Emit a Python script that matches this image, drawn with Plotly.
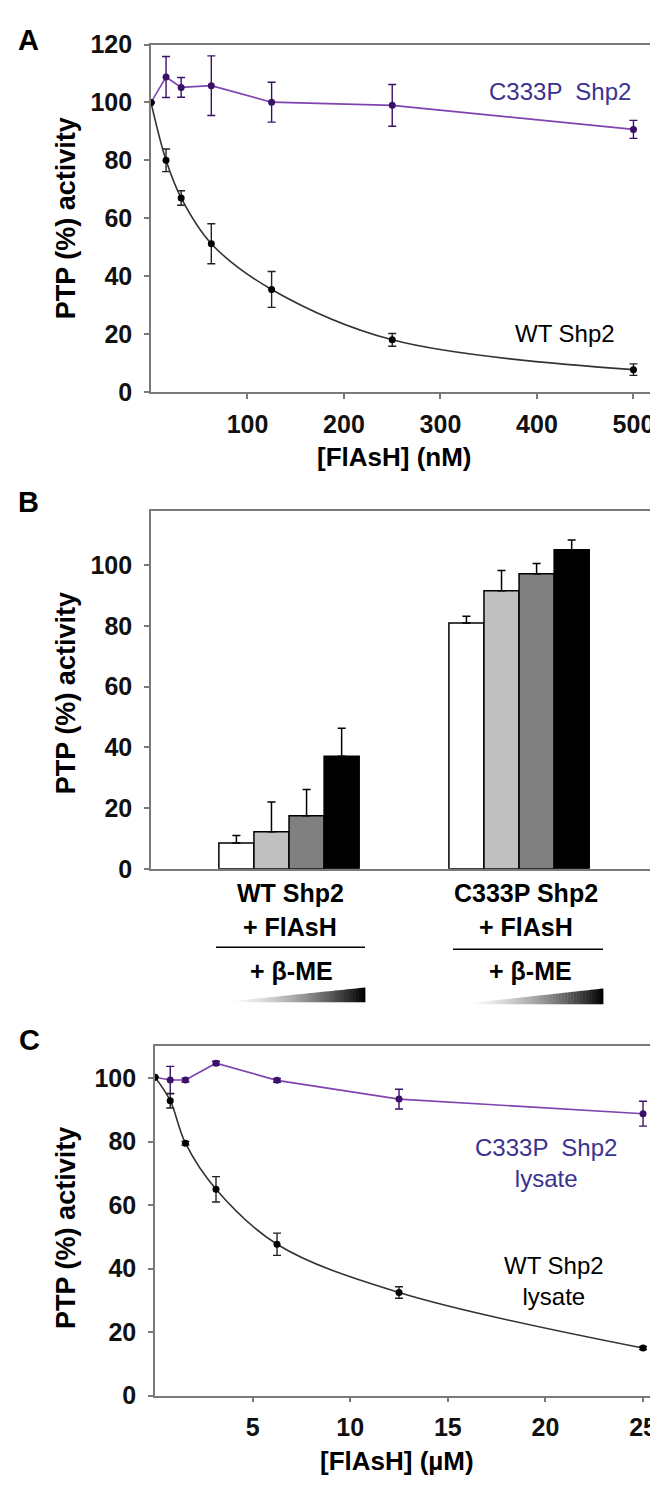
import plotly.graph_objects as go

# ---------------- data ----------------
# Panel A: FlAsH titration of purified Shp2 (nM)
a_conc = [0, 15.6, 31.25, 62.5, 125, 250, 500]
a_wt = [100, 80, 67, 51.2, 35.4, 18, 7.7]
a_wt_err = [0, 3.9, 2.5, 6.9, 6.2, 2.2, 2.0]
a_mut = [100, 108.8, 105.2, 105.8, 100.1, 99, 90.7]
a_mut_err = [0, 7.1, 3.4, 10.3, 6.9, 7.2, 3.1]

# Panel B: beta-ME rescue (4 increasing beta-ME levels)
b_groups = [0, 1]  # 0 = WT Shp2 + FlAsH, 1 = C333P Shp2 + FlAsH
b_level_names = ["β-ME level 1", "β-ME level 2", "β-ME level 3", "β-ME level 4"]
b_values = [[8.5, 81.0], [12.2, 91.6], [17.5, 97.2], [37.1, 105.1]]
b_errors = [[2.5, 2.2], [9.8, 6.7], [8.6, 3.4], [9.2, 3.2]]
b_colors = ["#ffffff", "#c0c0c0", "#808080", "#000000"]

# Panel C: FlAsH titration in lysate (uM)
c_conc = [0, 0.78, 1.56, 3.125, 6.25, 12.5, 25]
c_wt = [100.3, 92.9, 79.5, 65.0, 47.7, 32.5, 15.0]
c_wt_err = [0, 2.3, 0.6, 4.0, 3.5, 1.8, 0.5]
c_mut = [100.3, 99.4, 99.4, 104.7, 99.3, 93.4, 88.8]
c_mut_err = [0, 4.3, 0.6, 0.6, 0.6, 3.1, 3.9]

# ---------------- layout helpers ----------------
W, H = 658, 1490
def px(x):
    return x / W
def py(y):
    return 1 - y / H

PURPLE_LINE = "#8043b0"
PURPLE_MK = "#3a1068"
LABEL_BLUE = "#3b3290"
AXIS_COL = "#7a7a7a"
REG = "Liberation Sans, Arial, sans-serif"
TICK_FONT = dict(family=REG, size=25, color="#111", weight="bold")

fig = go.Figure()

# Panel A
fig.add_trace(go.Scatter(
    x=a_conc, y=a_mut, mode="lines+markers", xaxis="x", yaxis="y",
    line=dict(color=PURPLE_LINE, width=1.6),
    marker=dict(color=PURPLE_MK, size=7),
    error_y=dict(type="data", array=a_mut_err, color=PURPLE_MK, thickness=1.4, width=4),
    showlegend=False))
fig.add_trace(go.Scatter(
    x=a_conc, y=a_wt, mode="lines+markers", xaxis="x", yaxis="y",
    line=dict(color="#333333", width=1.6, shape="spline", smoothing=1.0),
    marker=dict(color="#000000", size=7),
    error_y=dict(type="data", array=a_wt_err, color="#222", thickness=1.4, width=4),
    showlegend=False))

# Panel B
for name, vals, errs, col in zip(b_level_names, b_values, b_errors, b_colors):
    fig.add_trace(go.Bar(
        x=b_groups, y=vals, name=name, xaxis="x2", yaxis="y2",
        marker=dict(color=col, line=dict(color="#000", width=1.5)),
        error_y=dict(type="data", symmetric=False, array=errs, arrayminus=[0, 0],
                     color="#000", thickness=1.5, width=4),
        showlegend=False))

# Panel C
fig.add_trace(go.Scatter(
    x=c_conc, y=c_mut, mode="lines+markers", xaxis="x3", yaxis="y3",
    line=dict(color=PURPLE_LINE, width=1.6),
    marker=dict(color=PURPLE_MK, size=7),
    error_y=dict(type="data", array=c_mut_err, color=PURPLE_MK, thickness=1.4, width=4),
    showlegend=False))
fig.add_trace(go.Scatter(
    x=c_conc, y=c_wt, mode="lines+markers", xaxis="x3", yaxis="y3",
    line=dict(color="#333333", width=1.6, shape="spline", smoothing=1.0),
    marker=dict(color="#000000", size=7),
    error_y=dict(type="data", array=c_wt_err, color="#222", thickness=1.4, width=4),
    showlegend=False))

def xax(domain, rng, tickvals, anchor):
    return dict(domain=domain, range=rng, tickvals=tickvals, anchor=anchor,
                showline=True, linecolor=AXIS_COL, linewidth=1.6, mirror=True,
                ticks="outside" if tickvals else "", ticklen=5, tickcolor=AXIS_COL, tickwidth=1.5,
                showgrid=False, zeroline=False, tickfont=TICK_FONT, ticklabelstandoff=4,
                showticklabels=bool(tickvals))

def yax(domain, rng, tickvals, anchor):
    return dict(domain=domain, range=rng, tickvals=tickvals, anchor=anchor,
                showline=True, linecolor=AXIS_COL, linewidth=1.6, mirror=True,
                ticks="outside", ticklen=5, tickcolor=AXIS_COL, tickwidth=1.5,
                showgrid=False, zeroline=False, tickfont=TICK_FONT, ticklabelstandoff=7)

fig.update_layout(
    width=W, height=H, autosize=False,
    margin=dict(l=0, r=0, t=0, b=0),
    paper_bgcolor="white", plot_bgcolor="white",
    barmode="group", bargap=0.39, bargroupgap=0,
    xaxis=xax([px(143), px(649)], [0, 524.4], [100, 200, 300, 400, 500], "y"),
    yaxis=yax([py(377), py(23)], [0, 120], [0, 20, 40, 60, 80, 100, 120], "x"),
    xaxis2=xax([px(143), px(650)], [-0.6, 1.604], [], "y2"),
    yaxis2=yax([py(863), py(498)], [0, 118], [0, 20, 40, 60, 80, 100], "x2"),
    xaxis3=xax([px(147), px(653)], [0, 25.92], [5, 10, 15, 20, 25], "y3"),
    yaxis3=yax([py(1400), py(1044)], [0, 110], [0, 20, 40, 60, 80, 100], "x3"),
)

ann = []
def add_text(text, x, y, size, color="#000", bold=False, family=REG, angle=0):
    ann.append(dict(text=text, x=px(x), y=py(y), xref="paper", yref="paper",
                    showarrow=False, textangle=angle, xanchor="center", yanchor="middle",
                    font=dict(family=family, size=size, color=color, weight="bold" if bold else "normal")))

# panel letters
add_text("A", 20, 18, 29, bold=True)
add_text("B", 20, 489, 29, bold=True)
add_text("C", 21, 1038, 29, bold=True)

# y titles
add_text("PTP (%) activity", 58, 200, 27, bold=True, angle=-90)
add_text("PTP (%) activity", 58, 684, 27, bold=True, angle=-90)
add_text("PTP (%) activity", 58, 1229, 27, bold=True, angle=-90)

# x titles
add_text("[FlAsH] (nM)", 386, 443, 26, bold=True)
add_text("[FlAsH] (µM)", 389, 1467, 26, bold=True)

# series labels
add_text("C333P  Shp2", 552, 71, 24, color=LABEL_BLUE)
add_text("WT Shp2", 557, 317, 24)
add_text("C333P  Shp2<br>lysate", 538, 1163, 24, color=LABEL_BLUE)
add_text("WT Shp2<br>lysate", 546, 1283, 24)

# panel B category labels
add_text("WT Shp2", 282, 888, 25, bold=True)
add_text("+ FlAsH", 282, 922, 25, bold=True)
add_text("+ β-ME", 283, 967, 25, bold=True)
add_text("C333P Shp2", 518, 888, 25, bold=True)
add_text("+ FlAsH", 518, 922, 25, bold=True)
add_text("+ β-ME", 522, 967, 25, bold=True)

fig.update_layout(annotations=ann)

shapes = []
# separator lines in panel B
for x0, x1, y in [(208, 357, 943), (445, 595, 945)]:
    shapes.append(dict(type="line", xref="paper", yref="paper",
                       x0=px(x0), x1=px(x1), y0=py(y), y1=py(y),
                       line=dict(color="#000", width=1.5)))

# gradient wedges (white -> black)
def wedge(x0, x1, yb, yt, n=48):
    out = []
    for i in range(n):
        xa = x0 + (x1 - x0) * i / n
        xb = x0 + (x1 - x0) * (i + 1) / n
        ya = yb - (yb - yt) * (xa - x0) / (x1 - x0)
        ybb = yb - (yb - yt) * (xb - x0) / (x1 - x0)
        t = (i + 0.5) / n
        g = int(255 * (1 - t ** 1.6))
        col = f"rgb({g},{g},{g})"
        path = (f"M {px(xa)} {py(yb)} L {px(xb + 0.4)} {py(yb)} "
                f"L {px(xb + 0.4)} {py(ybb)} L {px(xa)} {py(ya)} Z")
        out.append(dict(type="path", xref="paper", yref="paper", path=path,
                        fillcolor=col, line=dict(width=0)))
    return out

shapes += wedge(213, 357, 999, 984)
shapes += wedge(452, 595, 1001, 985)
fig.update_layout(shapes=shapes)

fig.write_html("out.html")
